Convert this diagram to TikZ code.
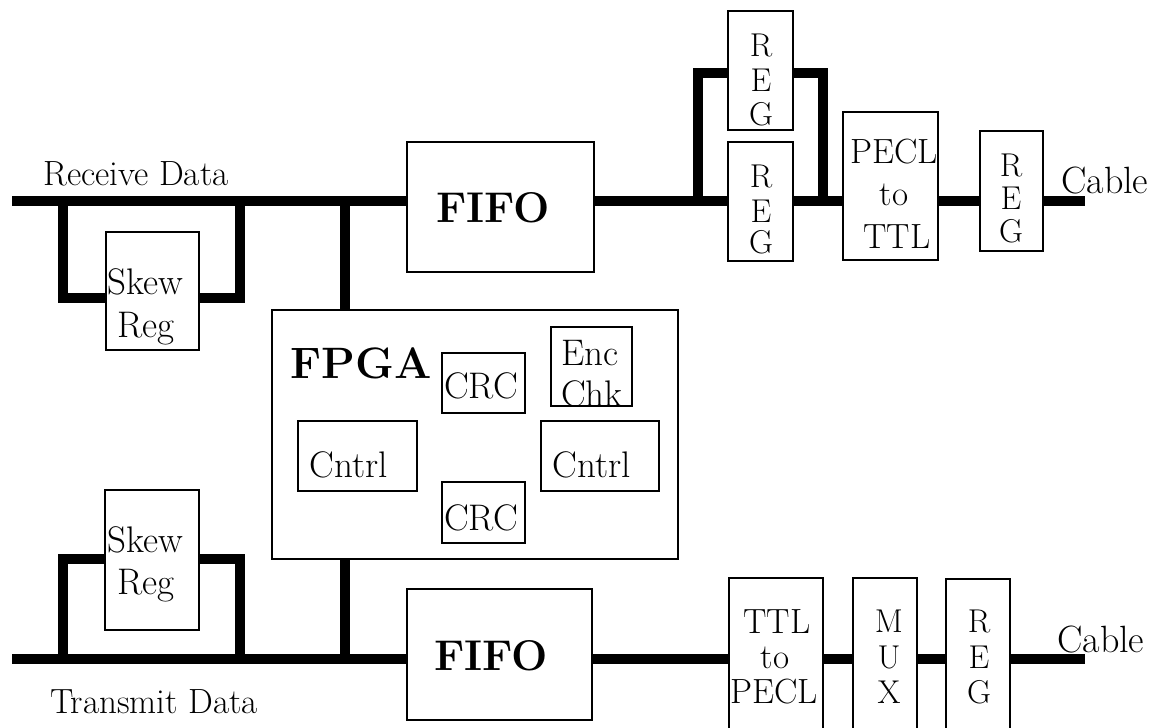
\documentclass[tikz,border=0pt]{standalone}
\newcommand\mybox[5]{\node[box,minimum width={#4-#2},minimum height={#5-#3}] (#1) at ({(#2+#4)/2},{(#3+#5)/2}) {};}
\begin{document}
\begin{tikzpicture}[x=1pt,y=-1pt,
  bus/.style={line width=10pt,line join=miter},
  box/.style={draw,line width=1.8pt,fill=white,inner sep=0pt,rectangle},
  lbl/.style={inner sep=0pt,anchor=base,font={\fontsize{37}{39}\selectfont}},
  lblw/.style={lbl,anchor=base west},
  side/.style={lblw,font={\fontsize{35}{37}\selectfont}},
  conv/.style={lbl,font={\fontsize{35}{37}\selectfont}},
  reg/.style={lbl,font={\fontsize{33}{35}\selectfont}},
  crc/.style={lbl,font={\fontsize{37}{39}\selectfont}},
  cab/.style={lblw,font={\fontsize{38}{40}\selectfont}},
  fifo/.style={lbl,font={\fontsize{43}{45}\selectfont\bfseries}},
  fpgat/.style={lblw,font={\fontsize{44}{46}\selectfont\bfseries}}]
\useasboundingbox (0,0) rectangle (1157,728);

% ---------- coordinates ----------
\coordinate (rxstart) at (12,201);
\coordinate (rxend) at (1085,201);
\coordinate (txstart) at (12,659);
\coordinate (txend) at (1085,659);
\coordinate (tl) at (63,201);
\coordinate (tr) at (240,201);
\coordinate (lpT) at (0,298);
\coordinate (bl) at (63,659);
\coordinate (br) at (240,659);
\coordinate (lpB) at (0,559);
\coordinate (ul) at (698,201);
\coordinate (ur) at (823,201);
\coordinate (lpU) at (0,73);
\coordinate (tapT) at (345,201);
\coordinate (tapB) at (345,659);

% ---------- boxes (geometry, used by the buses) ----------
\mybox{fifoT}{407}{142}{594}{272}
\mybox{regB}{728}{11}{793}{130}
\mybox{regA}{728}{142}{793}{261}
\mybox{pecl}{843}{112}{938}{260}
\mybox{regC}{980}{131}{1043}{251}
\mybox{skewT}{106}{232}{199}{350}
\mybox{fpga}{272}{310}{678}{559}
\mybox{skewB}{105}{490}{199}{630}
\mybox{fifoB}{407}{589}{592}{720}
\mybox{ttl}{729}{578}{823}{745}
\mybox{mux}{853}{578}{917}{745}
\mybox{regD}{946}{579}{1010}{745}

% ---------- buses ----------
\begin{scope}[bus]
  % receive bus
  \draw (rxstart) -- (fifoT.west |- rxstart);
  \draw (fifoT.east |- rxstart) -- (regA.west |- rxstart);
  \draw (regA.east |- rxstart) -- (pecl.west |- rxstart);
  \draw (pecl.east |- rxstart) -- (regC.west |- rxstart);
  \draw (regC.east |- rxstart) -- (rxend);
  % skew loop (receive)
  \draw (tl) |- (skewT.west |- lpT);
  \draw (skewT.east |- lpT) -| (tr);
  % REG bypass loop
  \draw (ul) |- (regB.west |- lpU);
  \draw (regB.east |- lpU) -| (ur);
  % FPGA taps
  \draw (tapT) -- (tapT |- fpga.north);
  \draw (tapB |- fpga.south) -- (tapB);
  % transmit bus
  \draw (txstart) -- (fifoB.west |- txstart);
  \draw (fifoB.east |- txstart) -- (ttl.west |- txstart);
  \draw (ttl.east |- txstart) -- (mux.west |- txstart);
  \draw (mux.east |- txstart) -- (regD.west |- txstart);
  \draw (regD.east |- txstart) -- (txend);
  % skew loop (transmit)
  \draw (bl) |- (skewB.west |- lpB);
  \draw (skewB.east |- lpB) -| (br);
\end{scope}

% boxes drawn over the bus ends
\mybox{fifoT}{407}{142}{594}{272}
\mybox{regB}{728}{11}{793}{130}
\mybox{regA}{728}{142}{793}{261}
\mybox{pecl}{843}{112}{938}{260}
\mybox{regC}{980}{131}{1043}{251}
\mybox{skewT}{106}{232}{199}{350}
\mybox{skewB}{105}{490}{199}{630}
\mybox{fifoB}{407}{589}{592}{720}
\mybox{ttl}{729}{578}{823}{745}
\mybox{mux}{853}{578}{917}{745}
\mybox{regD}{946}{579}{1010}{745}
\mybox{fpga}{272}{310}{678}{559}
\mybox{crcA}{442}{353}{525}{413}
\mybox{enc}{551}{327}{632}{406}
\mybox{cnL}{298}{421}{417}{491}
\mybox{cnR}{541}{421}{659}{491}
\mybox{crcB}{442}{482}{525}{543}

% ---------- texts ----------
\node[side] (rxlbl) at (43,185) {Receive Data};
\node[side] (txlbl) at (50,713) {Transmit Data};
\node[lbl] (skT1) at (145,294) {Skew};
\node[lbl] (skT2) at (146,337) {Reg};
\node[lbl] (skB1) at (145,552) {Skew};
\node[lbl] (skB2) at (146,594) {Reg};
\node[fifo] (fT) at (493,222) {FIFO};
\node[fifo] (fB) at (491,670) {FIFO};
\node[fpgat] (fp) at (290,378) {FPGA};
\node[crc] (c1) at (481,398) {CRC};
\node[crc] (c2) at (481,530) {CRC};
\node[lbl] (e1) at (590,365) {Enc};
\node[lbl] (e2) at (592,406) {Chk};
\node[lbl] (n1) at (349,477) {Cntrl};
\node[lbl] (n2) at (592,477) {Cntrl};
% upper REG
\node[reg] (rb1) at (761,56) {R};
\node[reg] (rb2) at (761,91) {E};
\node[reg] (rb3) at (761,125) {G};
% lower REG
\node[reg] (ra1) at (761,187) {R};
\node[reg] (ra2) at (761,222) {E};
\node[reg] (ra3) at (761,253) {G};
% PECL to TTL
\node[conv] (p1) at (894,163) {PECL};
\node[conv] (p2) at (894,205) {to};
\node[conv] (p3) at (897,248) {TTL};
% right REG
\node[reg] (rc1) at (1011,176) {R};
\node[reg] (rc2) at (1011,209) {E};
\node[reg] (rc3) at (1011,242) {G};
\node[cab] (cabT) at (1061,193) {Cable};
% TTL to PECL
\node[conv] (q1) at (777,633) {TTL};
\node[conv] (q2) at (775,668) {to};
\node[conv] (q3) at (774,703) {PECL};
% MUX
\node[reg] (m1) at (889,632) {M};
\node[reg] (m2) at (889,668) {U};
\node[reg] (m3) at (889,703) {X};
% bottom REG
\node[reg] (rd1) at (979,632) {R};
\node[reg] (rd2) at (979,668) {E};
\node[reg] (rd3) at (979,703) {G};
\node[cab] (cabB) at (1057,652) {Cable};
\end{tikzpicture}
\end{document}
